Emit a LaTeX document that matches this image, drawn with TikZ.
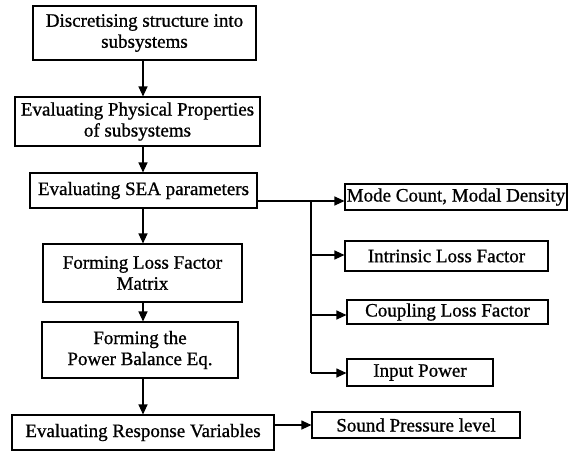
\documentclass[tikz,border=0pt]{standalone}
\usepackage{fontspec}
\setmainfont{Liberation Serif}[FakeBold=0.9]
\usetikzlibrary{arrows.meta}
\begin{document}
\begin{tikzpicture}[x=1pt,y=-1pt,
  box/.style={draw,line width=1.1pt,inner sep=0pt,align=center,font=\fontsize{19}{21}\selectfont},
  arr/.style={line width=1.1pt,-{Triangle[length=10pt,width=9pt]}},
  ln/.style={line width=1.1pt}]
\useasboundingbox (0,0) rectangle (585,451);
\node[box,minimum width=223pt,minimum height=54pt] (b1) at (144.5,33) {Discretising structure into\\subsystems};
\node[box,minimum width=245pt,minimum height=49pt] (b2) at (137.5,121.5) {Evaluating Physical Properties\\of subsystems};
\node[box,minimum width=227pt,minimum height=35pt] (b3) at (143.5,190.5) {Evaluating SEA parameters};
\node[box,minimum width=199pt,minimum height=58pt] (b4) at (142.5,273) {Forming Loss Factor\\Matrix};
\node[box,minimum width=196pt,minimum height=56pt] (b5) at (140,350) {Forming the\\Power Balance Eq.};
\node[box,minimum width=262pt,minimum height=35pt] (b6) at (143,432.5) {Evaluating Response Variables};
\node[box,minimum width=222pt,minimum height=26pt] (b7) at (456,197) {Mode Count, Modal Density};
\node[box,minimum width=203pt,minimum height=30pt] (b8) at (446.5,256) {Intrinsic Loss Factor};
\node[box,minimum width=201pt,minimum height=24pt] (b9) at (447.5,312) {Coupling Loss Factor};
\node[box,minimum width=146pt,minimum height=27pt] (b10) at (420,372.5) {Input Power};
\node[box,minimum width=208pt,minimum height=26pt] (b11) at (416,425) {Sound Pressure level};
\coordinate (ax) at (143,0);
\coordinate (br) at (311,201);
\coordinate (y8) at (311,255);
\coordinate (y9) at (311,315);
\coordinate (y10) at (311,373);
\draw[arr] (b1.south -| ax) -- (b2.north -| ax);
\draw[arr] (b2.south -| ax) -- (b3.north -| ax);
\draw[arr] (b3.south -| ax) -- (b4.north -| ax);
\draw[arr] (b4.south -| ax) -- (b5.north -| ax);
\draw[arr] (b5.south -| ax) -- (b6.north -| ax);
\draw[ln] (b3.east |- br) -- (br);
\draw[ln] (br) -- (y10);
\draw[arr] (br) -- (b7.west |- br);
\draw[arr] (y8) -- (b8.west |- y8);
\draw[arr] (y9) -- (b9.west |- y9);
\draw[arr] (y10) -- (b10.west |- y10);
\draw[arr] (b6.east |- b11.west) -- (b11.west);
\end{tikzpicture}
\end{document}
